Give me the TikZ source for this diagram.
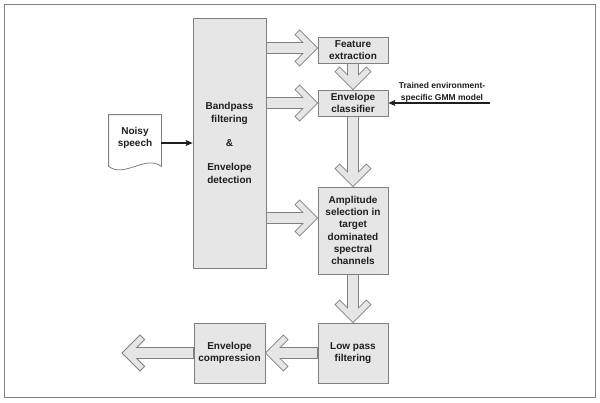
\documentclass[tikz,border=0pt]{standalone}
\usepackage{fontspec}
\setmainfont{Liberation Sans}
\usetikzlibrary{calc,arrows.meta}
\definecolor{boxfill}{HTML}{E6E6E6}
\definecolor{boxline}{HTML}{808080}
\definecolor{txt}{HTML}{1E1E1E}
\tikzset{
  blk/.style={draw=boxline, fill=boxfill, line width=0.8pt, inner sep=0pt, align=center,
    text=txt, font=\bfseries\fontsize{10}{12.2}\selectfont},
  fatstyle/.style={draw=boxline, fill=boxfill, line width=0.8pt, line join=miter},
  thin/.style={draw=txt, line width=1.1pt, -{Stealth[length=7pt,width=6pt,inset=1.5pt]}}
}
% #1 = tail coordinate name, #2 = tip coordinate name
\newcommand\fatarrow[2]{%
  \filldraw[fatstyle] (#2)
   -- ($(#2)!25.46pt!45:(#1)$) -- ($(#2)!26.27pt!30.66:(#1)$) -- ($(#2)!15.70pt!20.52:(#1)$)
   -- ($(#1)!5.5pt!-90:(#2)$) -- ($(#1)!5.5pt!90:(#2)$)
   -- ($(#2)!15.70pt!-20.52:(#1)$) -- ($(#2)!26.27pt!-30.66:(#1)$) -- ($(#2)!25.46pt!-45:(#1)$)
   -- cycle;}
\begin{document}
\begin{tikzpicture}[x=1pt,y=-1pt]
\useasboundingbox (0,0) rectangle (600,402);
\draw[boxline, line width=0.8pt] (4,4) rectangle (595,397);

% node positions (invisible placeholders first to get anchors)
\path
  (229.5,143) node[blk, draw=none, fill=none, minimum width=73pt, minimum height=250pt] (bp0) {}
  (353,50)    node[blk, draw=none, fill=none, minimum width=70pt, minimum height=26pt] (fe0) {}
  (353,103)   node[blk, draw=none, fill=none, minimum width=70pt, minimum height=26pt] (ec0) {}
  (353,230.5) node[blk, draw=none, fill=none, minimum width=70pt, minimum height=87pt] (am0) {}
  (353,353)   node[blk, draw=none, fill=none, minimum width=70pt, minimum height=60pt] (lp0) {}
  (229.5,353) node[blk, draw=none, fill=none, minimum width=71pt, minimum height=60pt] (cp0) {};

\coordinate (t1) at ([yshift=2pt]fe0.west);
\coordinate (s1) at (bp0.east |- t1);
\coordinate (t2) at (ec0.west);
\coordinate (s2) at (bp0.east |- t2);
\coordinate (t3) at ([yshift=12.5pt]am0.west);
\coordinate (s3) at (bp0.east |- t3);
\coordinate (out) at (122,353);

% block arrows
\fatarrow{s1}{t1}
\fatarrow{s2}{t2}
\fatarrow{s3}{t3}
\fatarrow{fe0.south}{ec0.north}
\fatarrow{ec0.south}{am0.north}
\fatarrow{am0.south}{lp0.north}
\fatarrow{lp0.west}{cp0.east}
\fatarrow{cp0.west}{out}

% boxes
\node[blk, minimum width=73pt, minimum height=250pt] (bp) at (bp0)
  {Bandpass\\filtering\\[12.2pt]\&\\[12.2pt]Envelope\\detection};
\node[blk, minimum width=70pt, minimum height=26pt] (fe) at (fe0) {Feature\\extraction};
\node[blk, minimum width=70pt, minimum height=26pt] (ec) at (ec0) {Envelope\\classifier};
\node[blk, minimum width=70pt, minimum height=87pt] (am) at (am0)
  {Amplitude\\selection in\\target\\dominated\\spectral\\channels};
\node[blk, minimum width=70pt, minimum height=60pt] (lp) at (lp0) {Low pass\\filtering};
\node[blk, minimum width=71pt, minimum height=60pt] (cp) at (cp0) {Envelope\\compression};

% noisy speech document
\node[blk, draw=none, fill=none, minimum width=52pt, minimum height=51pt] (ns) at (135,140.5) {};
\filldraw[draw=boxline, fill=white, line width=0.8pt]
  (ns.north west) -- (ns.north east) -- (ns.south east)
  .. controls ($(ns.south east)+(-16,-12)$) and ($(ns.south west)+(16,12)$) .. (ns.south west) -- cycle;
\node[text=txt, font=\bfseries\fontsize{10}{12.2}\selectfont, align=center] (nst) at (135,138) {Noisy\\speech};
\draw[thin] (ns.east |- bp.west) -- (bp.west);

% GMM input
\coordinate (gmm) at (490,103);
\draw[thin] (gmm) -- (ec.east);
\node[text=txt, font=\bfseries\fontsize{8.5}{12}\selectfont, align=center] (gmmt) at (442,92)
  {Trained environment-\\specific GMM model};
\end{tikzpicture}
\end{document}
